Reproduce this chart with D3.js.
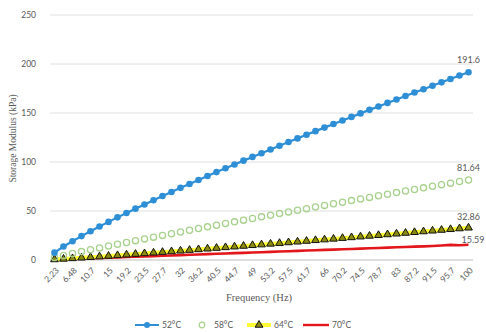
<!DOCTYPE html>
<html>
<head>
<meta charset="utf-8">
<script src="https://cdn.jsdelivr.net/npm/d3@7"></script>
<style>
  html, body { margin: 0; padding: 0; background: #fff; }
  svg { display: block; }
</style>
</head>
<body>
<svg id="chart" width="486" height="332"></svg>
<script>
// Frequency sweep (Hz)
const frequencies = ["2.23","4.36","6.48","8.61","10.7","12.9","15","17.1","19.2","21.4","23.5","25.6","27.7","29.9","32","34.1","36.2","38.4","40.5","42.6","44.7","46.9","49","51.1","53.2","55.4","57.5","59.6","61.7","63.9","66","68.1","70.2","72.4","74.5","76.6","78.7","80.9","83","85.1","87.2","89.4","91.5","93.6","95.7","97.9","100"];

// Storage modulus (kPa) at each temperature
const g52 = [7.5,13.8,19.2,24.4,29.4,34.2,38.9,43.5,48.0,52.4,56.7,61.0,65.3,69.4,73.6,77.6,81.7,85.7,89.7,93.6,97.5,101.4,105.2,109.0,112.8,116.6,120.4,124.1,127.8,131.5,135.1,138.8,142.4,146.0,149.6,153.2,156.7,160.3,163.8,167.3,170.9,174.3,177.8,181.3,184.7,188.2,191.6];
const g58 = [2.47,4.57,6.58,8.55,10.48,12.37,14.23,16.09,17.91,19.73,21.53,23.31,25.09,26.85,28.61,30.35,32.09,33.81,35.53,37.24,38.95,40.65,42.34,44.03,45.71,47.39,49.06,50.73,52.38,54.05,55.70,57.34,58.99,60.63,62.26,63.89,65.52,67.15,68.77,70.39,72.01,73.62,75.23,76.83,78.44,80.03,81.64];
const g64 = [0.50,1.05,1.62,2.21,2.82,3.44,4.07,4.71,5.36,6.02,6.67,7.34,8.02,8.70,9.38,10.07,10.76,11.45,12.16,12.86,13.57,14.27,14.99,15.70,16.43,17.15,17.87,18.60,19.33,20.07,20.80,21.54,22.28,23.02,23.76,24.51,25.26,26.01,26.76,27.52,28.28,29.04,29.80,30.56,31.32,32.09,32.86];
const g70 = [0.35,0.68,1.01,1.34,1.67,2.00,2.34,2.67,3.00,3.33,3.66,3.99,4.32,4.66,4.99,5.32,5.65,5.98,6.31,6.64,6.97,7.31,7.64,7.97,8.30,8.63,8.96,9.29,9.63,9.96,10.29,10.62,10.95,11.28,11.61,11.95,12.28,12.61,12.94,13.27,13.60,13.93,14.30,14.80,15.40,15.10,15.59];

const seriesNames = ["52°C", "58°C", "64°C", "70°C"];
const yTicks = [0, 50, 100, 150, 200, 250];

const svg = d3.select("#chart");
const plot = { left: 50, right: 473, top: 15, bottom: 260 };
const textGray = "#595959";
const sansFont = "Lato, 'Open Sans', sans-serif";
const serifFont = "'Liberation Serif', 'DejaVu Serif', serif";

const x = d3.scaleBand().domain(frequencies).range([plot.left, plot.right]).padding(0);
const y = d3.scaleLinear().domain([0, 250]).range([plot.bottom, plot.top]);
const cx = d => x(d) + x.bandwidth() / 2;

// Horizontal gridlines
svg.append("g")
  .selectAll("line")
  .data(yTicks)
  .join("line")
  .attr("x1", plot.left).attr("x2", plot.right)
  .attr("y1", d => y(d)).attr("y2", d => y(d))
  .attr("stroke", d => d === 0 ? "#bfbfbf" : "#e0e0e0")
  .attr("stroke-width", 1);

// Y axis tick labels
const yAxis = svg.append("g")
  .attr("transform", `translate(${plot.left},0)`)
  .call(d3.axisLeft(y).tickValues(yTicks).tickSize(0).tickPadding(14));
yAxis.select(".domain").remove();
yAxis.selectAll("text")
  .attr("fill", textGray).attr("font-family", sansFont).attr("font-size", 8.5);

// X axis tick labels: every second frequency, rotated
const xAxis = svg.append("g")
  .attr("transform", `translate(0,${plot.bottom})`)
  .call(d3.axisBottom(x).tickValues(frequencies.filter((d, i) => i % 2 === 0)).tickSize(0));
xAxis.select(".domain").remove();
xAxis.selectAll("text")
  .attr("fill", textGray).attr("font-family", sansFont).attr("font-size", 8.5)
  .attr("text-anchor", "end")
  .attr("x", 0).attr("y", 0).attr("dy", "0.35em")
  .attr("transform", "translate(3,9) rotate(-45)");

// Axis titles
svg.append("text")
  .attr("x", 259).attr("y", 301)
  .attr("text-anchor", "middle")
  .attr("fill", textGray).attr("font-family", serifFont).attr("font-size", 10.5)
  .text("Frequency (Hz)");
svg.append("text")
  .attr("transform", `translate(16,${(plot.top + plot.bottom) / 2 + 1}) rotate(-90)`)
  .attr("text-anchor", "middle")
  .attr("fill", textGray).attr("font-family", serifFont).attr("font-size", 9.5)
  .text("Storage Modulus (kPa)");

const line = d3.line().x((d, i) => cx(frequencies[i])).y(d => y(d));
const tri = d3.symbol().type(d3.symbolTriangle).size(26);

// 70°C: plain red line
svg.append("path").datum(g70)
  .attr("d", line).attr("fill", "none")
  .attr("stroke", "#e3161b").attr("stroke-width", 2.6).attr("stroke-linejoin", "round");

// 64°C: yellow line with triangle markers
svg.append("path").datum(g64)
  .attr("d", line).attr("fill", "none")
  .attr("stroke", "#ffff33").attr("stroke-width", 4).attr("stroke-linejoin", "round");
svg.append("g").selectAll("path").data(g64).join("path")
  .attr("d", tri)
  .attr("transform", (d, i) => `translate(${cx(frequencies[i])},${y(d)})`)
  .attr("fill", "#8a8a10").attr("stroke", "#111").attr("stroke-width", 1);

// 58°C: hollow green circles
svg.append("g").selectAll("circle").data(g58).join("circle")
  .attr("cx", (d, i) => cx(frequencies[i])).attr("cy", d => y(d))
  .attr("r", 3.1)
  .attr("fill", "none").attr("stroke", "#a9d18e").attr("stroke-width", 1.3);

// 52°C: blue line with filled circles
svg.append("path").datum(g52)
  .attr("d", line).attr("fill", "none")
  .attr("stroke", "#2e8fd6").attr("stroke-width", 2.2);
svg.append("g").selectAll("circle").data(g52).join("circle")
  .attr("cx", (d, i) => cx(frequencies[i])).attr("cy", d => y(d))
  .attr("r", 3.3).attr("fill", "#2e8fd6");

// Value labels at the last frequency
const last = frequencies[frequencies.length - 1];
const endLabels = [
  { v: g52[g52.length - 1], dx: 0, dy: -9, anchor: "middle" },
  { v: g58[g58.length - 1], dx: 0, dy: -9, anchor: "middle" },
  { v: g64[g64.length - 1], dx: 0, dy: -8, anchor: "middle" },
  { v: g70[g70.length - 1], dx: -7, dy: -2, anchor: "start" }
];
svg.append("g").selectAll("text").data(endLabels).join("text")
  .attr("x", d => cx(last) + d.dx).attr("y", d => y(d.v) + d.dy)
  .attr("text-anchor", d => d.anchor)
  .attr("fill", textGray).attr("font-family", sansFont).attr("font-size", 9)
  .text(d => d.v);

// Legend
const legend = svg.append("g").attr("transform", "translate(0,325)");
const items = [
  { name: seriesNames[0], x: 135 },
  { name: seriesNames[1], x: 190 },
  { name: seriesNames[2], x: 247 },
  { name: seriesNames[3], x: 303 }
];
// 52°C key
legend.append("line").attr("x1", items[0].x).attr("x2", items[0].x + 24).attr("y1", 0).attr("y2", 0)
  .attr("stroke", "#2e8fd6").attr("stroke-width", 2);
legend.append("circle").attr("cx", items[0].x + 12).attr("cy", 0).attr("r", 3).attr("fill", "#2e8fd6");
// 58°C key
legend.append("circle").attr("cx", items[1].x + 12).attr("cy", 0).attr("r", 2.8)
  .attr("fill", "none").attr("stroke", "#a9d18e").attr("stroke-width", 1.2);
// 64°C key
legend.append("line").attr("x1", items[2].x).attr("x2", items[2].x + 24).attr("y1", 0).attr("y2", 0)
  .attr("stroke", "#ffff33").attr("stroke-width", 4);
legend.append("path").attr("d", tri).attr("transform", `translate(${items[2].x + 12},0)`)
  .attr("fill", "#8a8a10").attr("stroke", "#111").attr("stroke-width", 1);
// 70°C key
legend.append("line").attr("x1", items[3].x).attr("x2", items[3].x + 26).attr("y1", 0).attr("y2", 0)
  .attr("stroke", "#e3161b").attr("stroke-width", 2.4);
legend.selectAll("text.key").data(items).join("text")
  .attr("class", "key")
  .attr("x", (d, i) => d.x + (i === 3 ? 29 : i === 1 ? 24 : 27)).attr("y", 0).attr("dy", "0.35em")
  .attr("fill", textGray).attr("font-family", sansFont).attr("font-size", 8.5)
  .text(d => d.name);
</script>
</body>
</html>
